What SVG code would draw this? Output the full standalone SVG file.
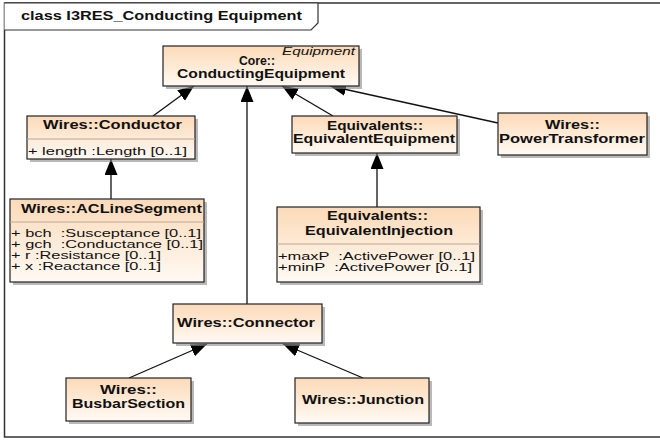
<svg xmlns="http://www.w3.org/2000/svg" width="660" height="441" viewBox="0 0 660 441">
<style>
text{font-family:"Liberation Sans",Arial,sans-serif;font-size:11.5px;fill:#111}
.b{font-weight:bold;font-size:12px}
.i{font-style:italic;font-size:11px;font-weight:normal}
.box{fill:url(#g);stroke:#222;stroke-width:1.2}
.sh{fill:#8a8a8a;opacity:0.6}
.div{stroke:#b8a898;stroke-width:1}
.c{fill:none;stroke:#111;stroke-width:1.3;marker-end:url(#tri)}
</style>
<defs>
<linearGradient id="g" x1="0" y1="0" x2="0" y2="1">
<stop offset="0" stop-color="#fcdab8"/>
<stop offset="1" stop-color="#fffaf4"/>
</linearGradient>
<marker id="tri" markerUnits="userSpaceOnUse" markerWidth="18" markerHeight="14" refX="16" refY="6.5" orient="auto">
<path d="M0,0 L16,6.5 L0,13 Z" fill="#000"/>
</marker>
</defs>
<rect x="0" y="0" width="660" height="441" fill="#fff"/>
<g id="frame">
<rect x="4.5" y="3" width="660" height="434" fill="none" stroke="#333" stroke-width="1.5"/>
<path d="M4.5,3 L318,3 L318,23 L311,30 L4.5,30" fill="#fff" stroke="#333" stroke-width="1.2"/>
<text x="21" y="20" class="b" textLength="281" lengthAdjust="spacingAndGlyphs">class I3RES_Conducting Equipment</text>
</g>
<g id="connectors">
<line class="c" x1="153" y1="116" x2="194" y2="86"/>
<line class="c" x1="111" y1="199" x2="111" y2="159"/>
<line class="c" x1="247" y1="304" x2="247" y2="86"/>
<line class="c" x1="333" y1="116" x2="282" y2="86"/>
<line class="c" x1="498" y1="123" x2="330" y2="86"/>
<line class="c" x1="377" y1="207" x2="377" y2="153"/>
<line class="c" x1="129" y1="378" x2="207" y2="344"/>
<line class="c" x1="363" y1="378" x2="283" y2="344"/>
</g>
<g id="core">
<rect class="sh" x="166" y="49" width="196" height="40"/>
<rect class="box" x="163" y="46" width="196" height="40"/>
<text x="282" y="55" class="i" textLength="73" lengthAdjust="spacingAndGlyphs">Equipment</text>
<text x="239" y="65" class="b" textLength="36" lengthAdjust="spacingAndGlyphs">Core::</text>
<text x="177" y="78" class="b" textLength="168" lengthAdjust="spacingAndGlyphs">ConductingEquipment</text>
</g>
<g id="conductor">
<rect class="sh" x="30" y="119" width="168" height="43"/>
<rect class="box" x="27" y="116" width="168" height="43"/>
<line class="div" x1="27" y1="139" x2="195" y2="139"/>
<text x="43" y="129" class="b" textLength="139" lengthAdjust="spacingAndGlyphs">Wires::Conductor</text>
<text x="28" y="155" textLength="159" lengthAdjust="spacingAndGlyphs">+ length :Length [0..1]</text>
</g>
<g id="aclinesegment">
<rect class="sh" x="13" y="202" width="194" height="83"/>
<rect class="box" x="10" y="199" width="194" height="83"/>
<line class="div" x1="10" y1="222" x2="204" y2="222"/>
<text x="21" y="213" class="b" textLength="181" lengthAdjust="spacingAndGlyphs">Wires::ACLineSegment</text>
<text x="11" y="237" textLength="190" lengthAdjust="spacingAndGlyphs" xml:space="preserve">+ bch  :Susceptance [0..1]</text>
<text x="11" y="248" textLength="192" lengthAdjust="spacingAndGlyphs" xml:space="preserve">+ gch  :Conductance [0..1]</text>
<text x="11" y="259" textLength="150" lengthAdjust="spacingAndGlyphs">+ r :Resistance [0..1]</text>
<text x="11" y="270" textLength="150" lengthAdjust="spacingAndGlyphs">+ x :Reactance [0..1]</text>
</g>
<g id="equivalentequipment">
<rect class="sh" x="295" y="119" width="165" height="37"/>
<rect class="box" x="292" y="116" width="165" height="37"/>
<text x="327" y="130" class="b" textLength="96" lengthAdjust="spacingAndGlyphs">Equivalents::</text>
<text x="293" y="143" class="b" textLength="162" lengthAdjust="spacingAndGlyphs">EquivalentEquipment</text>
</g>
<g id="powertransformer">
<rect class="sh" x="501" y="116" width="149" height="42"/>
<rect class="box" x="498" y="113" width="149" height="42"/>
<text x="545" y="129" class="b" textLength="55" lengthAdjust="spacingAndGlyphs">Wires::</text>
<text x="499" y="143" class="b" textLength="146" lengthAdjust="spacingAndGlyphs">PowerTransformer</text>
</g>
<g id="equivalentinjection">
<rect class="sh" x="280" y="210" width="203" height="75"/>
<rect class="box" x="277" y="207" width="203" height="75"/>
<line class="div" x1="277" y1="244" x2="480" y2="244"/>
<text x="327" y="220" class="b" textLength="101" lengthAdjust="spacingAndGlyphs">Equivalents::</text>
<text x="305" y="235" class="b" textLength="148" lengthAdjust="spacingAndGlyphs">EquivalentInjection</text>
<text x="278" y="260" textLength="197" lengthAdjust="spacingAndGlyphs" xml:space="preserve">+maxP  :ActivePower [0..1]</text>
<text x="278" y="271" textLength="194" lengthAdjust="spacingAndGlyphs" xml:space="preserve">+minP  :ActivePower [0..1]</text>
</g>
<g id="connector">
<rect class="sh" x="176" y="307" width="149" height="39"/>
<rect class="box" x="173" y="304" width="149" height="39"/>
<text x="177" y="327" class="b" textLength="138" lengthAdjust="spacingAndGlyphs">Wires::Connector</text>
</g>
<g id="busbarsection">
<rect class="sh" x="69" y="381" width="125" height="43"/>
<rect class="box" x="66" y="378" width="125" height="43"/>
<text x="100" y="394" class="b" textLength="57" lengthAdjust="spacingAndGlyphs">Wires::</text>
<text x="72" y="408" class="b" textLength="113" lengthAdjust="spacingAndGlyphs">BusbarSection</text>
</g>
<g id="junction">
<rect class="sh" x="298" y="381" width="134" height="45"/>
<rect class="box" x="295" y="378" width="134" height="45"/>
<text x="302" y="404" class="b" textLength="122" lengthAdjust="spacingAndGlyphs">Wires::Junction</text>
</g>
</svg>
